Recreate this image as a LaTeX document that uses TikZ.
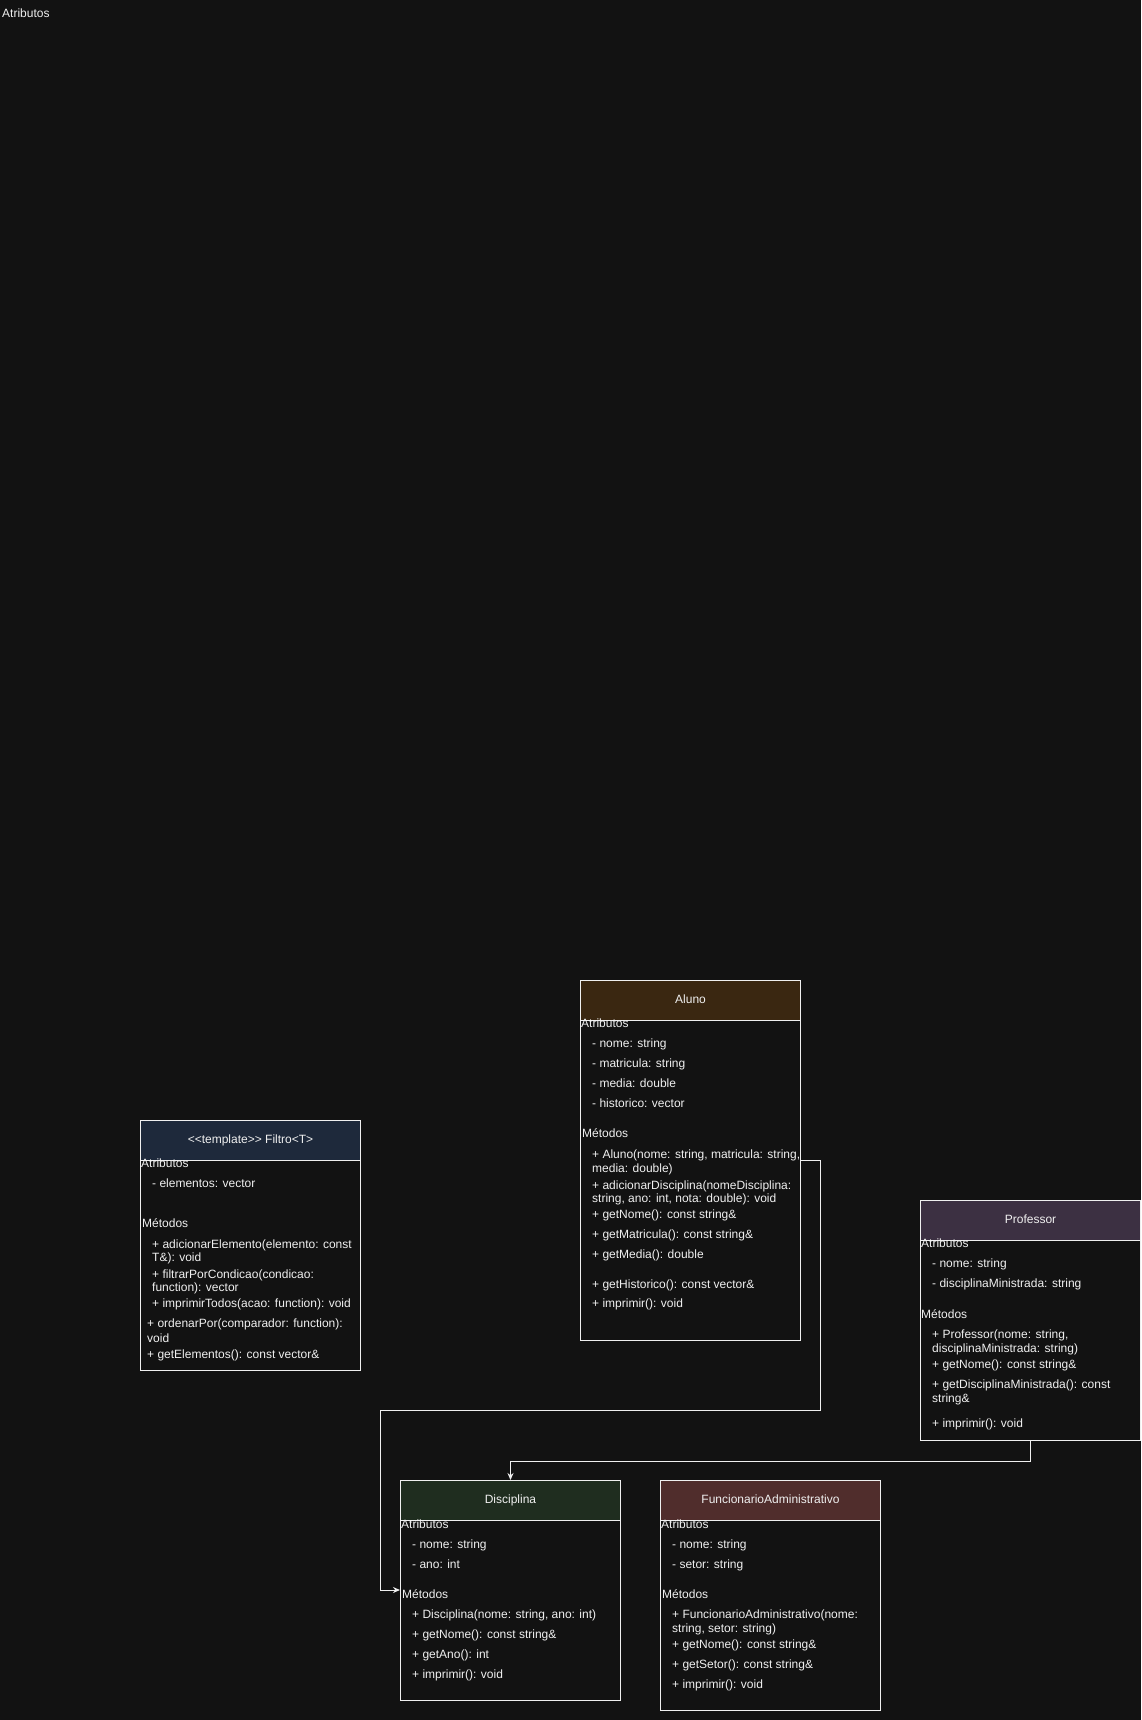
\documentclass[tikz,border=0pt]{standalone}
\usepackage{fontspec}
\setmainfont{Liberation Sans}
\usetikzlibrary{arrows.meta, positioning}
\definecolor{bgC}{HTML}{121212}
\definecolor{lineC}{HTML}{F0F0F0}
\definecolor{alunoC}{HTML}{3A2711}
\definecolor{filtroC}{HTML}{1E293B}
\definecolor{profC}{HTML}{3C3042}
\definecolor{discC}{HTML}{1F2D1F}
\definecolor{funcC}{HTML}{502D2C}
\tikzstyle{every node}=[font=\fontsize{12}{14}\selectfont, text=lineC]
\tikzstyle{classbox}=[draw=lineC, fill=bgC, rectangle, minimum width=220, anchor=north west, line width=1pt]
\tikzstyle{headbox}=[draw=lineC, rectangle, minimum width=220, minimum height=40, anchor=north west, line width=1pt, text height=9, text depth=2.5]
\tikzstyle{member}=[anchor=base west, inner sep=0pt]
\tikzstyle{conn}=[draw=lineC, line width=1pt]

\begin{document}
\begin{tikzpicture}[x=1pt, y=-1pt, >={Stealth[length=7pt,width=6pt]}]
      \fill[bgC] (0,0) rectangle (1141,1720);
      \useasboundingbox (0,0) rectangle (1141,1720);
      \node[member] (top) at (2,18) {Atributos};
      % Aluno
      \node[classbox, minimum height=360] (aluno) at (580,980) {};
      \node[headbox, fill=alunoC] (alunoH) at (aluno.north west) {Aluno};
      \node[member] (alunoA) at (581,1027) {Atributos};
      \node[member] (alunoA1) at (592,1047) {- nome: string};
      \node[member] (alunoA2) at (592,1067) {- matricula: string};
      \node[member] (alunoA3) at (592,1087) {- media: double};
      \node[member] (alunoA4) at (592,1107) {- historico: vector};
      \node[member] (alunoM) at (582,1137) {Métodos};
      \node[member] (alunoM1) at (592,1158) {+ Aluno(nome: string, matricula: string,};
      \node[member] (alunoM1b) at (592,1172) {media: double)};
      \node[member] (alunoM2) at (592,1189) {+ adicionarDisciplina(nomeDisciplina:};
      \node[member] (alunoM2b) at (592,1202) {string, ano: int, nota: double): void};
      \node[member] (alunoM3) at (592,1218) {+ getNome(): const string\&};
      \node[member] (alunoM4) at (592,1238) {+ getMatricula(): const string\&};
      \node[member] (alunoM5) at (592,1258) {+ getMedia(): double};
      \node[member] (alunoM6) at (592,1288) {+ getHistorico(): const vector\&};
      \node[member] (alunoM7) at (592,1307) {+ imprimir(): void};
      % Filtro
      \node[classbox, minimum height=250] (filtro) at (140,1120) {};
      \node[headbox, fill=filtroC] (filtroH) at (filtro.north west) {<{}<template>{}> Filtro<T>};
      \node[member] (filtroA) at (141,1167) {Atributos};
      \node[member] (filtroA1) at (152,1187) {- elementos: vector};
      \node[member] (filtroM) at (142,1227) {Métodos};
      \node[member] (filtroM1) at (152,1248) {+ adicionarElemento(elemento: const};
      \node[member] (filtroM1b) at (152,1261) {T\&): void};
      \node[member] (filtroM2) at (152,1278) {+ filtrarPorCondicao(condicao:};
      \node[member] (filtroM2b) at (152,1291) {function): vector};
      \node[member] (filtroM3) at (152,1307) {+ imprimirTodos(acao: function): void};
      \node[member] (filtroM4) at (147,1327) {+ ordenarPor(comparador: function):};
      \node[member] (filtroM4b) at (147,1342) {void};
      \node[member] (filtroM5) at (147,1358) {+ getElementos(): const vector\&};
      % Professor
      \node[classbox, minimum height=240] (prof) at (920,1200) {};
      \node[headbox, fill=profC] (profH) at (prof.north west) {Professor};
      \node[member] (profA) at (921,1247) {Atributos};
      \node[member] (profA1) at (932,1267) {- nome: string};
      \node[member] (profA2) at (932,1287) {- disciplinaMinistrada: string};
      \node[member] (profM) at (921,1318) {Métodos};
      \node[member] (profM1) at (932,1338) {+ Professor(nome: string,};
      \node[member] (profM1b) at (932,1352) {disciplinaMinistrada: string)};
      \node[member] (profM2) at (932,1368) {+ getNome(): const string\&};
      \node[member] (profM3) at (932,1388) {+ getDisciplinaMinistrada(): const};
      \node[member] (profM3b) at (932,1402) {string\&};
      \node[member] (profM4) at (932,1427) {+ imprimir(): void};
      % Disciplina
      \node[classbox, minimum height=220] (disc) at (400,1480) {};
      \node[headbox, fill=discC] (discH) at (disc.north west) {Disciplina};
      \node[member] (discA) at (401,1528) {Atributos};
      \node[member] (discA1) at (412,1548) {- nome: string};
      \node[member] (discA2) at (412,1568) {- ano: int};
      \node[member] (discM) at (402,1598) {Métodos};
      \node[member] (discM1) at (412,1618) {+ Disciplina(nome: string, ano: int)};
      \node[member] (discM2) at (412,1638) {+ getNome(): const string\&};
      \node[member] (discM3) at (412,1658) {+ getAno(): int};
      \node[member] (discM4) at (412,1678) {+ imprimir(): void};
      % FuncionarioAdministrativo
      \node[classbox, minimum height=230] (func) at (660,1480) {};
      \node[headbox, fill=funcC] (funcH) at (func.north west) {FuncionarioAdministrativo};
      \node[member] (funcA) at (661,1528) {Atributos};
      \node[member] (funcA1) at (672,1548) {- nome: string};
      \node[member] (funcA2) at (672,1568) {- setor: string};
      \node[member] (funcM) at (662,1598) {Métodos};
      \node[member] (funcM1) at (672,1618) {+ FuncionarioAdministrativo(nome:};
      \node[member] (funcM1b) at (672,1632) {string, setor: string)};
      \node[member] (funcM2) at (672,1648) {+ getNome(): const string\&};
      \node[member] (funcM3) at (672,1668) {+ getSetor(): const string\&};
      \node[member] (funcM4) at (672,1688) {+ imprimir(): void};
      % connectors
      \coordinate (alunoOut) at (800,1160);
      \coordinate (discIn) at (400,1590);
      \draw[conn, ->] (alunoOut) -| (820,1410) -| (380,1590) -- (discIn);
      \draw[conn, ->] (prof.south) -- ++(0,20) -| (disc.north);
    \end{tikzpicture}
\end{document}
